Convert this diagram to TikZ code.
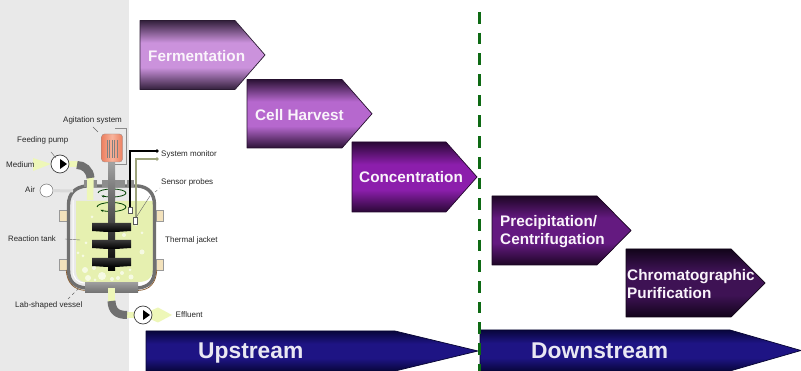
\documentclass[tikz,border=0pt]{standalone}
\usepackage{fontspec}
\setmainfont{Liberation Sans}
\usetikzlibrary{calc,arrows.meta}
\definecolor{panel}{HTML}{E9E9E9}
\definecolor{liquid}{HTML}{E6F0B0}
\definecolor{steel}{HTML}{707070}
\definecolor{probe}{HTML}{9DA37C}
\definecolor{feed}{HTML}{EEF7B8}
\definecolor{jack}{HTML}{F3E2BC}
\definecolor{stageA}{HTML}{CB92DC}
\definecolor{stageAe}{HTML}{33203C}
\definecolor{stageB}{HTML}{B668CE}
\definecolor{stageBe}{HTML}{2C1236}
\definecolor{stageC}{HTML}{8C1EAC}
\definecolor{stageCe}{HTML}{2A0836}
\definecolor{stageD}{HTML}{641A80}
\definecolor{stageDe}{HTML}{1E0626}
\definecolor{stageE}{HTML}{3E1254}
\definecolor{stageEe}{HTML}{12041A}
\definecolor{navyE}{HTML}{08063C}
\definecolor{navyM}{HTML}{1E1484}
\definecolor{divgreen}{HTML}{0E6A14}
\definecolor{motor}{HTML}{EC7F60}
\definecolor{motorL}{HTML}{F8B49C}
\tikzset{
  x=1pt,y=-1pt,
  stagetext/.style={font=\bfseries\fontsize{15.3}{18}\selectfont,align=left,anchor=west,inner sep=0pt,text=white!90!stageA},
  bigtext/.style={font=\bfseries\fontsize{22.8}{26}\selectfont,text=white!90!navyM,anchor=base west,inner sep=0pt},
  tiny/.style={font=\fontsize{8}{9}\selectfont,inner sep=0pt,text=black!85,anchor=west},
  pipe/.style={line width=6.5pt,feed},
  steelpipe/.style={line width=8pt,steel},
  pumpbody/.style={circle,draw=black!75,fill=white,line width=.7pt,minimum size=18pt,inner sep=0pt},
  airbody/.style={circle,draw=black!55,fill=white,line width=.5pt,minimum size=13pt,inner sep=0pt},
  sensorbox/.style={draw=black!65,fill=white,line width=.5pt,minimum width=4pt,minimum height=6pt,inner sep=0pt},
  leader/.style={black!60,line width=.4pt},
  stir/.style={green!25!black,line width=.8pt,-{Stealth[length=3pt]}},
}
% \stagearrow{shading}{left}{shoulder}{tip}{top}{bottom}{edge}
\newcommand{\stagearrow}[7]{%
  \shade[shading=#1]
    (#2,#5) -- (#3,#5) -- (#4,{(#5+#6)/2}) -- (#3,#6) -- (#2,#6) -- cycle;
  \draw[#7!85!black,line width=.7pt,line join=round]
    (#2,#5) -- (#3,#5) -- (#4,{(#5+#6)/2}) -- (#3,#6) -- (#2,#6) -- cycle;
}
\newcommand{\declstage}[3]{%
  \pgfdeclareverticalshading{#1}{100bp}{color(0bp)=(#2); color(25bp)=(#2); color(41bp)=(#3); color(59bp)=(#3); color(75bp)=(#2); color(100bp)=(#2)}%
}
\declstage{shA}{stageAe}{stageA}
\declstage{shB}{stageBe}{stageB}
\declstage{shC}{stageCe}{stageC}
\declstage{shD}{stageDe}{stageD}
\declstage{shE}{stageEe}{stageE}
\declstage{shN}{navyE}{navyM}
\begin{document}
\begin{tikzpicture}
\useasboundingbox (0,0) rectangle (801,371);
\fill[white] (0,0) rectangle (801,371);
\fill[panel] (0,0) rectangle (129,371);

% stages
\stagearrow{shA}{140}{235}{265}{20.5}{89.5}{stageAe}
\node[stagetext] (ferm) at (148,56) {Fermentation};
\stagearrow{shB}{247}{342}{372}{79.5}{148}{stageBe}
\node[stagetext] (harv) at (255,115) {Cell Harvest};
\stagearrow{shC}{352}{446}{477}{142}{212}{stageCe}
\node[stagetext] (conc) at (359,177) {Concentration};
\stagearrow{shD}{492}{597}{631}{196}{265}{stageDe}
\node[stagetext] (prec) at (500,232) {Precipitation/\\Centrifugation};
\stagearrow{shE}{626}{731}{765}{249}{317}{stageEe}
\node[stagetext] (chro) at (627,284) {Chromatographic\\Purification};

% phase bars
\stagearrow{shN}{146}{395}{478}{331}{371}{navyE}
\node[bigtext] (up) at (198,358.5) {Upstream};
\stagearrow{shN}{480}{730}{801}{330}{371}{navyE}
\node[bigtext] (down) at (531,358.5) {Downstream};

% divider
\coordinate (divT) at (479,12);
\coordinate (divB) at (479,371);
\draw[divgreen,line width=3pt,dash pattern=on 11.7pt off 9pt] (divT) -- (divB);

% ---------- reactor ----------
\foreach \yy in {210,259}{
  \fill[jack,draw=black!40,line width=.3pt] (59,\yy) rectangle (67,\yy+11.5);
  \fill[jack,draw=black!40,line width=.3pt] (156,\yy) rectangle (163,\yy+11.5);
}
% liquid
\fill[liquid]
  (76,201) -- (153,201) -- (153,270) .. controls (153,278) and (147,282) .. (138,282)
  -- (86,282) .. controls (79,282) and (76,277) .. (76,270) -- cycle;
% bubbles
\foreach \bx/\by/\br in {85/270/3,94/268/2,102/276/4,112/279/2,122/273/2,131/277/2.5,88/278/3,142/252/2.5,124/235/2,92/217/1.5,78/253/1.5,136/225/1.5,86/243/1.5,118/278/2,95/280/1.5,130/270/1.5,142/233/1.5,83/256/1.5}
  \fill[white!65!liquid] (\bx,\by) circle (\br);
% vessel wall
\draw[steel,line width=3.4pt]
  (68.5,270) -- (68.5,205) .. controls (68.5,193) and (76,187) .. (86,186)
  -- (138,186) .. controls (148,187) and (154.5,193) .. (154.5,205)
  -- (154.5,270) .. controls (154.5,282) and (148,287) .. (138,288)
  -- (86,288) .. controls (75,287) and (68.5,282) .. (68.5,270) -- cycle;
\draw[brown!70!black,line width=.7pt]
  (66.2,270) .. controls (67,283) and (74,290) .. (86,290.5);
\draw[brown!70!black,line width=.7pt]
  (156.8,270) .. controls (156,283) and (150,290) .. (138,290.5);
\draw[white,line width=1pt] (73,200) -- (73,270) .. controls (73,278) and (77,283) .. (86,283) -- (140,283);
% top ports and bottom flange
\fill[steel!80] (84,180) rectangle (97,187);
\fill[steel!80] (102,180) rectangle (125,187);
\fill[steel!80] (127,180) rectangle (134,187);
\shade[top color=steel!70,bottom color=steel] (85,283) rectangle (138,293);
% stirrer rotation
\draw[stir] (98,193) arc[start angle=180,delta angle=320,x radius=14,y radius=4];
\draw[stir] (97,207) arc[start angle=180,delta angle=320,x radius=14.5,y radius=4.5];
% shaft and impellers
\shade[top color=black!35,bottom color=black] (108,160) rectangle (115,271);
\foreach \yy in {223,240,258}{
  \shade[top color=black!78,bottom color=black]
    (92,\yy) -- (131,\yy) -- (131,\yy+8) -- (116,\yy+9) -- (107,\yy+9) -- (92,\yy+8) -- cycle;
}
% motor
\draw[black!45,line width=.5pt] (115,128) -- (126,128) -- (126,164) -- (115,164);
\shade[left color=motor,right color=motor,middle color=motorL,draw=black!45,line width=.3pt,rounded corners=3pt] (101.5,134) rectangle (122.5,162);
\foreach \xx in {107,109.5,112,114.5,117}
  \draw[black!50,line width=.6pt] (\xx,140) -- (\xx,158);
% feed line
\coordinate (feedEnd) at (90,200);
\fill[feed] (33,158) -- (51,164) -- (33,171) -- cycle;
\draw[pipe] (66,164) -- (79,164);
\draw[pipe] (90.5,177) -- (feedEnd);
\draw[steelpipe] (77,165) .. controls (84,165) and (90,170) .. (90.5,178);
\node[pumpbody] (pumpA) at (60,164) {};
\fill[black] (60,159) -- (67,164) -- (60,169) -- cycle;
% air
\coordinate (airIn) at (73,191);
\node[airbody] (airV) at (46.5,190.5) {};
\draw[white!85!black,line width=3pt] (airV) -- (airIn);
% outlet
\coordinate (outTop) at (111.5,288);
\draw[pipe] (outTop) -- (111.5,303);
\draw[pipe] (125,315) -- (150,315);
\draw[steelpipe] (111.5,301) .. controls (112,311) and (117,315) .. (127,315);
\fill[feed] (158,307.5) -- (172,315) -- (158,322.5) -- (150,319) -- (150,311) -- cycle;
\node[pumpbody] (pumpB) at (143,315) {};
\fill[black] (143,310) -- (150,315) -- (143,320) -- cycle;
% sensors
\coordinate (monA) at (157,151);
\coordinate (monB) at (157,159);
\node[sensorbox] (senA) at (130,210) {};
\node[sensorbox,minimum height=7pt] (senB) at (135.7,221) {};
\draw[black,line width=1.3pt] (senA.north) |- (monA);
\draw[probe,line width=1.6pt] (senB.north) |- (monB);
\fill[black] (monA) circle (1.9);
\fill[probe] (monB) circle (1.9);
% labels
\node[tiny] (l1) at (63,120) {Agitation system};
\node[tiny] (l2) at (17,140) {Feeding pump};
\node[tiny] (l3) at (6,165) {Medium};
\node[tiny] (l4) at (25,190) {Air};
\node[tiny] (l5) at (161,154.5) {System monitor};
\node[tiny] (l6) at (161,182) {Sensor probes};
\node[tiny,font=\fontsize{7.8}{9}\selectfont] (l7) at (8,239) {Reaction tank};
\node[tiny] (l8) at (165,240) {Thermal jacket};
\node[tiny] (l9) at (15,305) {Lab-shaped vessel};
\node[tiny] (l10) at (175.5,315) {Effluent};
\draw[leader] (93,127) -- (98,132);
\draw[leader] (51,152) -- (56,158);
\draw[leader,dashed] (155,192) -- (160,188);
\draw[leader] (135.7,218) -- (150,196);
\draw[leader] (65,239) -- (80,240);
\draw[leader,dashed] (68,299) -- (80,287);
\end{tikzpicture}
\end{document}
